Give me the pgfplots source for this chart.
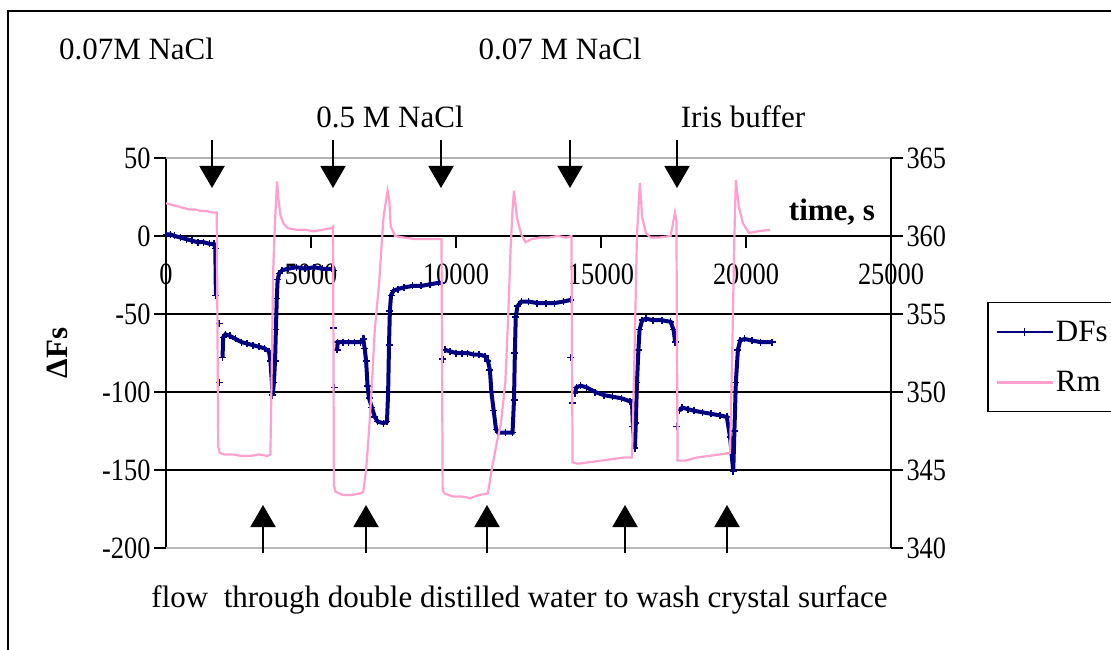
\documentclass[border=0pt]{standalone}
\usepackage{fontspec}
\setmainfont{Liberation Serif}
\newfontfamily\tickfont{Liberation Serif}[FakeStretch=0.85]
\usepackage{pgfplots}
\pgfplotsset{compat=1.18}
\usetikzlibrary{arrows.meta}
\definecolor{dfblue}{RGB}{0,0,128}
\definecolor{rmpink}{RGB}{255,160,205}
\newcommand{\bigfont}{\fontsize{31}{37}\selectfont}
\begin{document}
\begin{tikzpicture}[x=1pt,y=1pt]
\useasboundingbox (0,0) rectangle (1111,649);
\draw[line width=2pt] (8,-20) -- (8,638) -- (1130,638);
\begin{axis}[
  at={(166pt,101pt)}, anchor=south west,
  scale only axis, width=725pt, height=390pt,
  xmin=0, xmax=25000, ymin=-200, ymax=50,
  axis x line*=middle, axis y line*=left,
  axis line style={line width=2pt, black},
  xtick={0,5000,10000,15000,20000,25000},
  ytick={-200,-150,-100,-50,0,50},
  minor ytick={-150,-100,-50},
  yminorgrids, minor grid style={black, line width=1.8pt},
  minor tick length=0pt,
  tick align=outside, major tick length=12pt,
  tick style={black, line width=2pt},
  scaled x ticks=false,
  hide obscured x ticks=false,
  /pgf/number format/assume math mode=true,
  /pgf/number format/1000 sep={},
  tick label style={font=\tickfont\bigfont},
  xticklabel style={yshift=-12pt},
  ylabel={\bfseries ΔFs},
  ylabel style={at={(axis description cs:-0.150,0.5)}, anchor=center, font=\bigfont},
  unbounded coords=jump,
]
\addplot[color=dfblue, line width=4pt, mark=+, mark size=3.5pt, mark options={solid, line width=1.5pt}] coordinates {
(0,1) (150,1) (300,0) (500,-1) (700,-2) (900,-3) (1100,-4) (1300,-4) (1500,-5) (1650,-5) (1700,-8) (1720,-38)
(1720,nan) (1830,-56) (1830,nan) (1840,-94) (1840,nan)
(1950,-78) (1970,-65) (2050,-63) (2200,-64) (2400,-66) (2600,-68) (2800,-69) (3000,-70) (3200,-71) (3400,-72) (3550,-74) (3600,-80) (3680,-102) (3720,-94) (3760,-80) (3790,-60) (3820,-40) (3850,-28) (3900,-24) (4000,-22) (4200,-21) (4500,-20) (4800,-21) (5100,-20) (5400,-21) (5700,-21) (5760,-22)
(5760,nan) (5770,-59) (5770,nan) (5800,-97) (5800,nan)
(5900,-73) (5920,-68) (6100,-68) (6300,-68) (6500,-68) (6700,-68) (6800,-66) (6850,-72) (6900,-80) (6950,-96) (7000,-104) (7100,-110) (7200,-116) (7300,-119) (7500,-120) (7620,-119) (7660,-100) (7690,-70) (7720,-48) (7760,-38) (7850,-35) (8000,-34) (8200,-33) (8500,-32) (8800,-32) (9100,-31) (9400,-30) (9500,-30)
(9500,nan) (9550,-79) (9550,nan)
(9620,-73) (9800,-74) (10000,-75) (10200,-75) (10400,-75) (10600,-76) (10800,-76) (11000,-77) (11100,-80) (11170,-86) (11220,-100) (11300,-112) (11380,-124) (11450,-126) (11700,-126) (11950,-126) (12000,-105) (12030,-75) (12060,-52) (12120,-45) (12250,-42) (12500,-42) (12800,-43) (13100,-43) (13400,-43) (13700,-42) (13950,-41)
(13950,nan) (13960,-78) (13960,nan) (14000,-107) (14000,nan)
(14100,-101) (14150,-97) (14300,-96) (14500,-97) (14800,-100) (15100,-102) (15400,-103) (15700,-104) (16000,-106) (16070,-107) (16100,-122) (16170,-136) (16200,-120) (16240,-94) (16290,-73) (16330,-60) (16420,-54) (16550,-53) (16800,-54) (17100,-54) (17400,-55) (17500,-60) (17560,-68)
(17560,nan) (17620,-122) (17620,nan)
(17700,-112) (17800,-110) (18000,-111) (18200,-112) (18500,-113) (18800,-114) (19100,-115) (19340,-116) (19450,-129) (19560,-151) (19600,-125) (19650,-94) (19720,-73) (19800,-67) (19950,-66) (20200,-67) (20500,-68) (20900,-68)
};
\draw[gray!60, line width=1.5pt] (rel axis cs:0,1) -- (rel axis cs:1,1);
\draw[gray!55, line width=3pt] (rel axis cs:0,0) -- (rel axis cs:1,0);
\end{axis}
\begin{axis}[
  at={(166pt,101pt)}, anchor=south west,
  scale only axis, width=725pt, height=390pt,
  xmin=0, xmax=25000, ymin=340, ymax=365,
  axis x line=none, axis y line*=right,
  axis line style={line width=2pt, black},
  ytick={340,345,350,355,360,365},
  tick align=outside, major tick length=12pt,
  tick style={black, line width=2pt},
  /pgf/number format/assume math mode=true,
  tick label style={font=\tickfont\bigfont},
  legend style={at={(1.1324,0.6308)}, anchor=north west, draw=black, line width=1.5pt,
    font=\bigfont, inner xsep=8pt, inner ysep=16pt, row sep=25pt},
  legend cell align=left,
  legend image code/.code={\draw[mark repeat=2,mark phase=2,#1] plot coordinates {(0pt,0pt) (28pt,0pt) (56pt,0pt)};},
]
\addlegendimage{color=dfblue, line width=2pt, mark=+, mark size=4pt, mark options={solid,line width=1.2pt}}
\addlegendentry{\makebox[80pt][l]{DFs}}
\addplot[color=rmpink, line width=2.2pt] coordinates {
(0,362.1) (200,362.0) (400,361.9) (600,361.8) (800,361.7) (1000,361.7) (1200,361.6) (1400,361.6) (1600,361.5) (1750,361.5)
(1800,346.5) (1850,346.1) (2000,346.0) (2300,346.0) (2600,345.9) (2900,345.9) (3200,346.0) (3500,345.9) (3600,346.0)
(3650,352) (3700,358) (3760,361) (3830,363.5) (3870,362.5) (3950,361.3) (4050,360.8) (4200,360.5) (4500,360.4) (4800,360.4) (5100,360.3) (5400,360.4) (5700,360.5) (5760,360.6)
(5790,344.0) (5850,343.6) (6100,343.4) (6400,343.4) (6700,343.5) (6800,343.6) (6900,345.0) (7000,347.5) (7100,350.5) (7200,354) (7350,357) (7500,361.2) (7640,362.9)
(7700,362.3) (7750,360.6) (7900,360.0) (8200,359.9) (8600,359.8) (9000,359.8) (9500,359.8)
(9540,343.7) (9600,343.5) (9900,343.3) (10200,343.3) (10500,343.2) (10800,343.4) (11100,343.5) (11170,344.3) (11230,345.0) (11400,346.7) (11550,348.0) (11700,350.6) (11800,354.8) (11880,359.1) (11950,361.7) (12000,362.9)
(12100,361.2) (12250,360.1) (12400,359.6) (12600,359.8) (12900,359.9) (13200,359.9) (13500,360.0) (13800,359.9) (13980,360.0)
(14020,345.5) (14200,345.4) (14600,345.5) (15000,345.6) (15400,345.7) (15800,345.8) (16070,345.8)
(16150,352) (16240,360) (16340,363.4) (16420,361.2) (16550,360.2) (16700,359.9) (17000,359.9) (17400,360.0) (17550,361.5) (17600,361.0)
(17640,345.6) (17900,345.6) (18300,345.8) (18700,345.9) (19100,346.0) (19450,346.1)
(19520,352) (19600,360) (19650,363.6) (19750,361.9) (19900,360.8) (20100,360.2) (20400,360.3) (20830,360.4)
};
\addlegendentry{\makebox[80pt][l]{Rm}}
\end{axis}
% annotations
\node[font=\bigfont] at (136.5,600) {0.07M NaCl};
\node[font=\bigfont] at (560,600) {0.07 M NaCl};
\node[font=\bigfont] at (390,532) {0.5 M NaCl};
\node[font=\bigfont] at (743,532) {Iris buffer};
\node[font=\bigfont\bfseries] at (832,437) {time, s};
\node[font=\bigfont] at (519.5,49) {flow\ \ through double distilled water to wash crystal surface};
\foreach \xx in {212,333,441,570,677}{
  \draw[line width=2pt, -{Triangle[width=25pt,length=22pt]}] (\xx,509) -- (\xx,461);
}
\foreach \xx in {263,366,487,625,727}{
  \draw[line width=2pt, -{Triangle[width=25pt,length=22pt]}] (\xx,96) -- (\xx,144);
}
\end{tikzpicture}
\end{document}
